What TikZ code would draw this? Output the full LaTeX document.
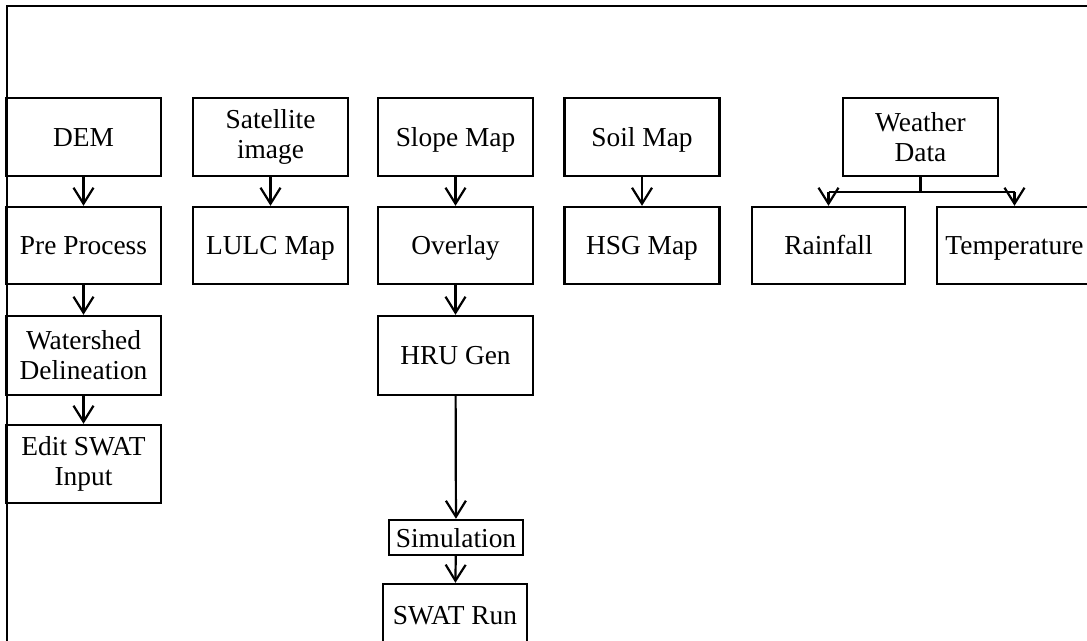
\documentclass[tikz,border=0pt]{standalone}
\usepackage{fontspec}
\setmainfont{Liberation Serif}
\usetikzlibrary{arrows.meta,calc}
\begin{document}
\begin{tikzpicture}[x=0.5pt,y=-0.5pt,
  box/.style={draw=black,line width=1.2pt,rectangle,inner sep=0pt,align=center,
    font=\fontsize{13.7}{15}\selectfont,minimum width=77.5pt,minimum height=39pt},
  one/.style={text height=11pt,text depth=1.5pt},
  arr/.style={line width=1.1pt,-{Straight Barb[length=8pt,width=10pt,line width=1.1pt]}},
  conn/.style={line width=1.1pt},
  frame/.style={line width=0.7pt}]
\clip (0,0) rectangle (1087,641);
\fill[white] (0,0) rectangle (1087,641);
% frame
\coordinate (fa) at (7,641);
\coordinate (fb) at (7,6);
\coordinate (fc) at (1090,6);
\draw[frame] (fa) -- (fb) -- (fc);
% row 1
\node[box,one] (dem) at (83.5,137) {DEM};
\node[box] (sat) at (270.5,137) {Satellite\\image};
\node[box,one] (slope) at (455.5,137) {Slope Map};
\node[box,one] (soil) at (642,137) {Soil Map};
\node[box] (weather) at (920.5,137) {Weather\\Data};
% row 2
\node[box,one,minimum height=38.5pt] (pre) at (83.5,245.5) {Pre Process};
\node[box,one,minimum height=38.5pt] (lulc) at (270.5,245.5) {LULC Map};
\node[box,one,minimum height=38.5pt] (overlay) at (455.5,245.5) {Overlay};
\node[box,one,minimum height=38.5pt] (hsg) at (642,245.5) {HSG Map};
\node[box,one,minimum height=38.5pt,minimum width=76.5pt] (rain) at (828.5,245.5) {Rainfall};
\node[box,one,minimum height=38.5pt,minimum width=77.5pt] (temp) at (1014.5,245.5) {Temperature};
% row 3
\node[box,minimum height=39.5pt] (water) at (83.5,355.5) {Watershed\\Delineation};
\node[box,one,minimum height=39.5pt] (hru) at (455.5,355.5) {HRU Gen};
% row 4
\node[box] (edit) at (83.5,464) {Edit SWAT\\Input};
% simulation
\node[box,one,minimum width=67pt,minimum height=17.5pt] (sim) at (456,537.5) {Simulation};
\node[box,one,minimum width=72pt,minimum height=31pt] (run) at (455,615) {SWAT Run};
% connectors
\draw[arr] (dem) -- (pre);
\draw[arr] (pre) -- (water);
\draw[arr] (water) -- (edit);
\draw[arr] (sat) -- (lulc);
\draw[arr] (slope) -- (overlay);
\draw[arr] (overlay) -- (hru);
\draw[arr] (hru) -- (sim);
\draw[arr] (sim) -- (run);
\draw[arr] (soil) -- (hsg);
\coordinate (br) at ($(weather.south)+(0,15)$);
\coordinate (brl) at (br -| rain.north);
\coordinate (brr) at (br -| temp.north);
\draw[conn] (weather.south) -- (br);
\draw[conn] (brl) -- (brr);
\draw[arr] (brl) -- (rain.north);
\draw[arr] (brr) -- (temp.north);
\end{tikzpicture}
\end{document}
